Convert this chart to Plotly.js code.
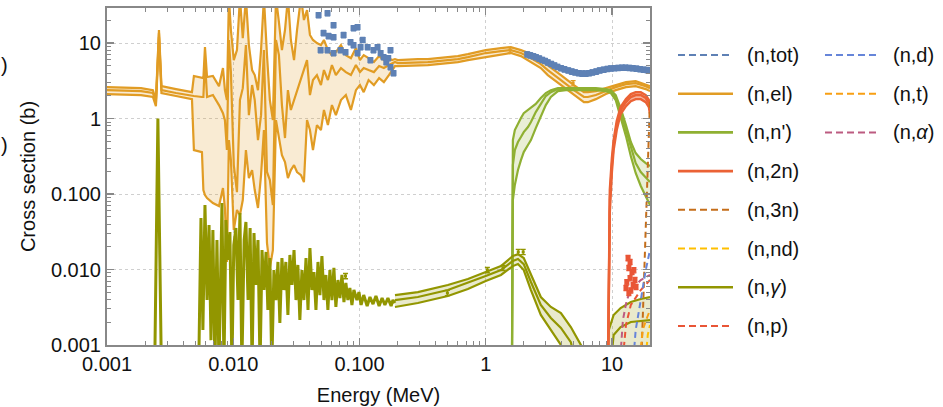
<!DOCTYPE html>
<html><head><meta charset="utf-8">
<script src="https://cdn.plot.ly/plotly-3.0.1.min.js"></script>
<style>html,body{margin:0;padding:0;background:#fff}#chart{width:943px;height:407px}</style>
</head><body><div id="chart"></div>
<script>
// ---------- data (energy in MeV, cross section in barns) ----------
const tickVals = [0.001, 0.01, 0.1, 1, 10];
const xTickText = ['0.001', '0.010', '0.100', '1', '10'];
const yTickText = ['0.001', '0.010', '0.100', '1', '10'];

// (n,el) evaluated band
const elE = [0.001,0.00186,0.00231,0.00244,0.00258,0.0027,0.00352,0.00471,0.00488,0.00565,
 0.0058,0.00597,0.0062,0.0069,0.00771,0.00829,0.00859,0.00891,0.00924,0.00958,
 0.0101,0.0107,0.0113,0.0119,0.0126,0.0133,0.0141,0.0148,0.0157,0.0166,
 0.0175,0.0185,0.0195,0.0206,0.0218,0.0230,0.0243,0.0257,0.0271,0.0286,
 0.0303,0.0320,0.0344,0.0363,0.0384,0.0405,0.0428,0.0460,0.0495,0.0523,
 0.0562,0.0605,0.0650,0.0713,0.0780,0.0855,0.0937,0.1008,0.108,0.118,
 0.130,0.143,0.156,0.171,0.181,0.191,0.201,0.290,0.348,0.501,
 0.601,0.722,1.0,1.32,1.58,1.90,2.28,2.73,3.10,3.94,
 4.99,5.99,6.44,7.45,8.94,10.7,12.9,15.4,18.5,20];
const elUp = [2.61,2.53,2.38,1.76,14.9,2.69,2.46,2.24,3.66,3.44,
 3.44,8.85,3.55,3.66,2.69,4.67,2.38,1.76,40,14.9,
 5.96,8.07,40,11.6,40,9.4,4.39,3.77,2.38,8.07,
 40,6.93,1.76,0.955,40,19.0,8.07,14.9,40,11.0,
 5.96,14.9,40,20.2,27.4,12.8,11.0,10.0,9.4,11.0,
 8.07,6.93,7.6,9.4,6.93,6.33,8.59,5.96,6.93,6.33,
 5.61,6.73,5.96,6.33,5.96,6.14,5.96,6.14,6.14,6.53,
 6.73,7.15,8.07,8.59,8.85,8.07,7.15,5.96,5.12,3.77,
 2.78,2.24,2.24,2.31,2.53,2.78,3.04,3.14,2.86,2.69];
const elMid = [2.38,2.31,2.18,1.60,13.6,2.38,2.18,1.99,1.99,1.93,
 1.93,5.96,1.93,2.05,1.51,1.18,0.955,0.383,11.0,4.13,
 0.242,0.106,1.76,2.53,9.4,1.11,2.78,1.76,0.519,1.11,
 8.07,0.196,0.153,0.0715,11.0,6.93,1.51,0.552,2.38,1.30,
 1.76,2.38,3.24,4.39,5.96,2.05,3.24,3.77,2.78,4.39,
 3.24,5.12,3.77,4.67,4.13,3.77,5.12,4.13,4.67,4.39,
 4.13,4.96,4.67,5.12,5.44,5.61,5.44,5.61,5.61,5.96,
 6.14,6.53,7.38,7.83,8.07,7.38,6.33,5.27,4.39,3.24,
 2.38,1.93,1.93,2.05,2.31,2.61,2.86,2.95,2.69,2.53];
const elLo = [2.11,2.05,1.93,1.46,12.0,2.18,1.99,1.81,0.383,0.360,
 0.113,0.097,0.0885,0.076,0.0693,0.120,0.0653,0.0126,0.519,0.282,
 0.0334,0.0614,0.0527,0.0833,0.383,0.163,0.208,0.113,0.0653,0.178,
 0.705,0.0225,0.0105,0.0181,0.955,0.552,0.328,0.265,0.163,0.208,
 0.242,0.196,0.178,0.144,0.955,0.705,0.383,0.82,0.705,1.30,
 0.82,1.51,1.11,1.76,2.05,1.30,2.38,2.78,2.24,3.24,
 2.78,3.44,3.04,3.77,4.39,4.96,4.96,5.12,5.12,5.44,
 5.61,5.96,6.53,6.93,7.38,6.73,5.61,4.67,3.77,2.78,
 2.05,1.65,1.65,1.81,2.11,2.38,2.61,2.69,2.46,2.31];

// (n,n') band
const nnE = [1.61,1.64,1.70,1.80,1.90,2.00,2.16,2.28,2.49,2.73,2.99,3.28,3.73,4.31,5.67,7.45,8.94,9.80,10.7,11.7,12.9,14.1,15.4,16.9,18.5,20];
const nnUp = [0.0003,0.519,0.705,0.871,1.02,1.18,1.30,1.38,1.56,1.87,2.18,2.38,2.53,2.53,2.53,2.53,2.46,2.38,2.05,1.38,0.82,0.489,0.349,0.291,0.257,0.235];
const nnMid = [0.0003,0.242,0.383,0.489,0.569,0.662,0.772,0.899,1.22,1.56,1.99,2.24,2.46,2.46,2.46,2.46,2.38,2.31,1.87,1.22,0.705,0.407,0.257,0.196,0.163,0.144];
const nnLo = [0.0003,0.0833,0.132,0.208,0.282,0.360,0.446,0.519,0.748,1.05,1.51,1.93,2.31,2.38,2.38,2.38,2.31,2.18,1.76,1.08,0.586,0.318,0.190,0.128,0.094,0.0715];

// (n,2n) band
const n2nE = [9.27,9.44,9.61,9.98,10.3,10.9,11.7,12.9,14.1,15.4,16.9,18.5,19.6,20];
const n2nUp = [0.0003,0.0246,0.113,0.30,0.519,0.927,1.42,1.81,2.11,2.24,2.24,2.05,1.76,1.46];
const n2nMid = [0.0003,0.0181,0.0833,0.242,0.446,0.82,1.30,1.65,1.93,2.05,2.05,1.87,1.60,1.30];
const n2nLo = [0.0003,0.0126,0.0578,0.196,0.383,0.705,1.15,1.46,1.70,1.81,1.81,1.65,1.42,1.15];

// (n,gamma) resonance region
const ngResE = [0.001,0.00231,0.0024,0.00253,0.00268,0.00282,0.00525,0.00535,0.00555,0.00575,
 0.00597,0.0062,0.00643,0.00666,0.0069,0.00716,0.00743,0.00771,0.00814,0.00844,
 0.00875,0.00908,0.00941,0.00976,0.0101,0.0105,0.0109,0.0113,0.0117,0.0122,
 0.0126,0.0131,0.0136,0.0141,0.0146,0.0151,0.0157,0.0163,0.0169,0.0175,
 0.0182,0.0188,0.0195,0.0202,0.0210,0.0218,0.0226,0.0234,0.0243,0.0252,
 0.0261,0.0271,0.0281,0.0292,0.0303,0.0314,0.0325,0.0337,0.0350,0.0363,
 0.0377,0.0391,0.0405,0.0420,0.0436,0.0452,0.0469,0.0486,0.0504,0.0523,
 0.0542,0.0562,0.0583,0.0605,0.0627,0.0650,0.0675,0.0700,0.0726,0.0753,
 0.0780,0.0809,0.0839,0.0871,0.0903,0.0954,0.0990,0.103,0.108,0.115,
 0.121,0.128,0.135,0.143,0.151,0.159,0.168,0.178,0.184,0.191];
const ngResV = [0.0003,0.0004,0.001,1.0,0.001,0.0003,0.0003,0.0008,0.0481,0.00158,
 0.0715,0.00394,0.0389,0.00116,0.0334,0.0005,0.0246,0.0005,0.076,0.0005,
 0.0453,0.0134,0.0314,0.0005,0.0211,0.0355,0.00394,0.056,0.0005,0.0246,
 0.0426,0.00394,0.0355,0.0005,0.0305,0.00624,0.0246,0.0005,0.0181,0.00535,
 0.0171,0.00291,0.0142,0.0005,0.00985,0.00394,0.0126,0.00196,0.0142,0.00535,
 0.0126,0.0025,0.0156,0.00624,0.0181,0.00394,0.0115,0.00214,0.00985,0.00394,
 0.0142,0.00291,0.0193,0.00535,0.00927,0.00291,0.0126,0.00459,0.0151,0.00394,
 0.00847,0.00291,0.00985,0.00394,0.0105,0.00319,0.00726,0.00419,0.00847,0.00371,
 0.00663,0.00394,0.00569,0.00339,0.00535,0.00394,0.00503,0.00339,0.00459,0.00329,
 0.00432,0.00349,0.00446,0.00329,0.00419,0.00339,0.00419,0.00329,0.00394,0.0036];

// (n,gamma) smooth band
const ngE = [0.191,0.290,0.501,0.722,1.0,1.32,1.64,1.80,2.00,2.28,2.73,3.28,3.94,4.72,5.67,6.81,8.17,8.94,9.44,10.3,11.7,14.1,16.9,20];
const ngUp = [0.00459,0.00503,0.00624,0.00749,0.00927,0.0111,0.0151,0.0160,0.0142,0.00847,0.00432,0.00319,0.00265,0.00173,0.001,0.0003,0.0003,0.0003,0.00158,0.0025,0.00309,0.00371,0.00407,0.00432];
const ngMid = [0.00394,0.00432,0.00535,0.00663,0.00821,0.00985,0.0130,0.0138,0.0118,0.00683,0.00339,0.00228,0.00168,0.00109,0.0003,0.0003,0.0003,0.0003,0.0003,0.00136,0.00173,0.00202,0.00208,0.00214];
const ngLo = [0.00319,0.0036,0.00446,0.00552,0.00705,0.00847,0.0111,0.0118,0.00985,0.00535,0.0025,0.00158,0.001,0.0003,0.0003,0.0003,0.0003,0.0003,0.0003,0.0003,0.0003,0.0003,0.0003,0.0003];

// threshold reactions (dashed)
const n3nE = [17.0,17.9,18.5,19.2,19.6,20];
const n3nV = [0.0005,0.00726,0.0453,0.383,1.11,1.76];
const nndE = [18.2,19.2,20];
const nndV = [0.0005,0.00136,0.00184];
const npE = [12.0,12.9,14.1,16.9,20];
const npV = [0.0005,0.00184,0.00339,0.00535,0.00726];
const ndE = [14.6,15.4,16.9,18.5,20];
const ndV = [0.0005,0.00158,0.00394,0.00985,0.0181];
const ntE = [16.3,17.5,18.9,20];
const ntV = [0.0005,0.00158,0.00228,0.00291];
const naE = [11.5,12.2,13.1,14.1,16.9,20];
const naV = [0.0005,0.00214,0.00394,0.00535,0.00726,0.00847];

// experimental points
const totE = [0.0474,0.0492,0.0519,0.0558,0.0558,0.0569,0.0623,0.0623,0.0623,0.0708,0.0748,0.0775,0.0849,0.0897,0.0897,0.0965,0.0965,0.102,0.106,0.116,0.122,0.129,0.139,0.147,0.155,0.163,0.169,0.176,0.176,0.186,
 2.13,2.25,2.38,2.5,2.65,2.8,2.95,3.1,3.3,3.5,3.7,3.95,4.2,4.5,4.8,5.1,5.45,5.8,6.2,6.6,7.0,7.5,8.0,8.6,9.2,9.8,10.5,11.2,12.0,12.8,13.7,14.6,15.6,16.7,17.8,19.0,20];
const totV = [23.5,8.08,13.6,24.9,8.08,12.4,12.0,17.3,7.38,8.08,12.8,7.6,10.3,15.8,9.4,16.3,7.38,8.85,11.0,8.85,5.96,8.08,8.85,7.38,6.53,5.6,6.33,8.08,4.81,4.0,
 7.1,6.9,6.7,6.5,6.25,6.0,5.8,5.55,5.3,5.05,4.85,4.65,4.5,4.35,4.2,4.1,4.0,3.95,3.95,4.0,4.1,4.2,4.35,4.45,4.55,4.62,4.67,4.7,4.72,4.72,4.7,4.65,4.6,4.52,4.45,4.4,4.38];
const elExpE = [1.56,4.92];
const elExpV = [8.08,2.95];
const ngExpE = [0.0775,0.497,1.03,1.37,1.81,1.98];
const ngExpV = [0.0082,0.00489,0.00985,0.0105,0.0171,0.0171];
const npExpE = [13.4,13.9,13.6,14.4,13.9,13.1,14.7,14.1,15.2,12.9,14.9,13.6,15.5];
const npExpV = [0.0142,0.0126,0.0105,0.0093,0.0077,0.0068,0.0062,0.0053,0.0073,0.0057,0.0098,0.0049,0.0059];

// legend
const legNames = ['(n,tot)','(n,el)',"(n,n')",'(n,2n)','(n,3n)','(n,nd)','(n,<i>γ</i>)','(n,p)','(n,d)','(n,t)','(n,<i>α</i>)'];
const legColors = ['#5e81b5','#e19c24','#8fb032','#eb6235','#c56e1a','#ffbf00','#929600','#e95536','#6685d9','#f89f13','#bc5b80'];
const legDashed = [true,false,false,false,true,true,false,true,true,true,true];

// ---------- drawing ----------
const C = {tot:'#5e81b5', el:'#e19c24', nn:'#8fb032', n2n:'#eb6235', n3n:'#c56e1a', nnd:'#ffbf00', ng:'#929600', np:'#e95536', nd:'#6685d9', nt:'#f89f13', na:'#bc5b80'};
const traces = [];
function band(E, lo, up, mid, color, fill, w) {
  traces.push({x:E, y:lo, mode:'lines', line:{color:color, width:w}, hoverinfo:'skip', showlegend:false});
  traces.push({x:E, y:up, mode:'lines', line:{color:color, width:w}, fill:'tonexty', fillcolor:fill, hoverinfo:'skip', showlegend:false});
  traces.push({x:E, y:mid, mode:'lines', line:{color:color, width:w}, hoverinfo:'skip', showlegend:false});
}
band(elE, elLo, elUp, elMid, C.el, 'rgba(225,156,36,0.2)', 2.2);
band(nnE, nnLo, nnUp, nnMid, C.nn, 'rgba(143,176,50,0.2)', 2.2);
traces.push({x:ngResE, y:ngResV, mode:'lines', line:{color:C.ng, width:3}, showlegend:false});
band(ngE, ngLo, ngUp, ngMid, C.ng, 'rgba(146,150,0,0.2)', 2.2);
band(n2nE, n2nLo, n2nUp, n2nMid, C.n2n, 'rgba(235,98,53,0.5)', 2.4);
const dashed = [[n3nE,n3nV,C.n3n],[nndE,nndV,C.nnd],[npE,npV,C.np],[ndE,ndV,C.nd],[ntE,ntV,C.nt],[naE,naV,C.na]];
dashed.forEach(d => traces.push({x:d[0], y:d[1], mode:'lines', line:{color:d[2], width:2, dash:'6px,4px'}, showlegend:false}));
function pts(E, V, color, size) {
  traces.push({x:E, y:V, mode:'markers', marker:{symbol:'square', size:size, color:color},
    error_y:{type:'percent', value:8, width:2.5, thickness:1.3, color:color}, showlegend:false});
}
pts(totE, totV, C.tot, 6);
pts(elExpE, elExpV, C.el, 3);
pts(ngExpE, ngExpV, C.ng, 3);
pts(npExpE, npExpV, C.np, 5);

const L = 107, R = 650, T = 8, B = 345;
const W = R - L, H = B - T;
const px = x => (x - L) / W, py = y => (B - y) / H;
const FONT = 'Liberation Sans, Arial, Helvetica, sans-serif';
const shapes = [], annotations = [];
legNames.forEach((name, i) => {
  const col = i < 8 ? 0 : 1, row = i < 8 ? i : i - 8;
  const y = 55 + row * 38.7;
  const x0 = col === 0 ? 678 : 825, x1 = col === 0 ? 733 : 878, tx = col === 0 ? 745 : 891;
  shapes.push({type:'line', xref:'paper', yref:'paper', x0:px(x0), x1:px(x1), y0:py(y), y1:py(y),
    line:{color:legColors[i], width: legDashed[i] ? 2 : 2.6, dash: legDashed[i] ? '7px,4px' : 'solid'}});
  annotations.push({xref:'paper', yref:'paper', x:px(tx), y:py(y), xanchor:'left', yanchor:'middle',
    text:name, showarrow:false, font:{size:20, family:FONT, color:'#111'}});
});
[65, 145].forEach(y => annotations.push({xref:'paper', yref:'paper', x:px(0), y:py(y), xanchor:'left', yanchor:'middle',
  text:')', showarrow:false, borderpad:0, font:{size:20, family:FONT, color:'#111'}}));

const axisCommon = {
  type:'log', tickvals:tickVals, ticks:'inside', ticklen:7, tickwidth:1.3, tickcolor:'#888',
  showline:true, linecolor:'#888', linewidth:2, mirror:'allticks', zeroline:false,
  showgrid:true, gridcolor:'#cfcfcf', griddash:'dot', gridwidth:1,
  tickfont:{size:20, family:FONT, color:'#111'},
  minor:{ticks:'inside', ticklen:4, tickcolor:'#888', tickwidth:1, dtick:'D1', showgrid:false}
};
const layout = {
  width:943, height:407, margin:{l:L, r:943-R, t:T, b:407-B},
  paper_bgcolor:'#fff', plot_bgcolor:'#fff', showlegend:false,
  font:{family:FONT, size:20, color:'#111'},
  xaxis:Object.assign({}, axisCommon, {range:[-3, Math.log10(20)], ticktext:xTickText,
    title:{text:'Energy (MeV)', font:{size:20, family:FONT, color:'#111'}, standoff:14}}),
  yaxis:Object.assign({}, axisCommon, {range:[-3, 1.465], ticktext:yTickText,
    title:{text:'Cross section (b)', font:{size:20, family:FONT, color:'#111'}, standoff:10}}),
  shapes:shapes, annotations:annotations
};
Plotly.newPlot('chart', traces, layout, {displayModeBar:false, staticPlot:true});
</script></body></html>
